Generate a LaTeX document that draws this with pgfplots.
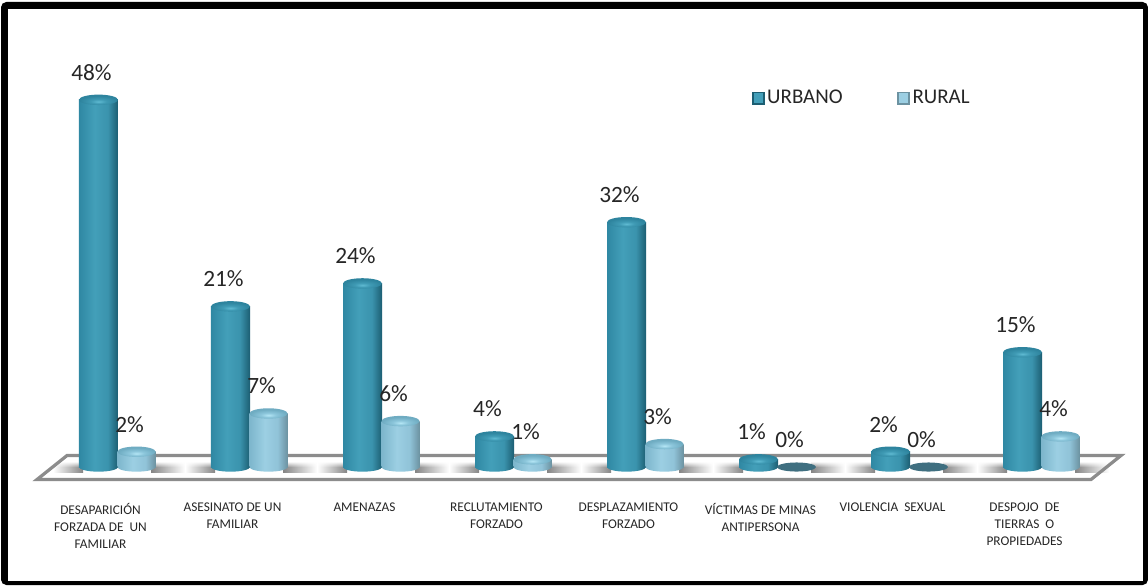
\documentclass[border=0pt]{standalone}
\usepackage{fontspec}
\setmainfont{Carlito}
\usepackage{pgfplots}
\usepackage{pgfplotstable}
\usetikzlibrary{fadings}
\pgfplotsset{compat=1.18}

\definecolor{txt}{HTML}{262626}
\definecolor{rimgray}{HTML}{8C8C8C}
\definecolor{flatc}{HTML}{3F6F80}
\definecolor{ul}{HTML}{2F88A3}
\definecolor{um}{HTML}{439FB9}
\definecolor{un}{HTML}{3A93AD}
\definecolor{ur}{HTML}{1C5E72}
\definecolor{rl}{HTML}{7DB6CC}
\definecolor{rm}{HTML}{9CCFE3}
\definecolor{rn}{HTML}{90C3D8}
\definecolor{rr}{HTML}{6C92A1}
\definecolor{cua}{HTML}{5FBAD2}
\definecolor{cub}{HTML}{3F9AB4}
\definecolor{cud}{HTML}{2E849E}
\definecolor{cra}{HTML}{B4E6F5}
\definecolor{crb}{HTML}{8CC6DB}
\definecolor{crd}{HTML}{6FACC2}

% Side lighting of the cylinder bodies
\pgfdeclarehorizontalshading{cylU}{100bp}{
  color(0bp)=(ul); color(25bp)=(ul); color(45bp)=(um);
  color(62bp)=(un); color(75bp)=(ur); color(100bp)=(ur)}
\pgfdeclarehorizontalshading{cylR}{100bp}{
  color(0bp)=(rl); color(25bp)=(rl); color(45bp)=(rm);
  color(62bp)=(rn); color(75bp)=(rr); color(100bp)=(rr)}
% Caps of the cylinders, lit just below their centre
\pgfdeclareradialshading{capU}{\pgfpoint{0bp}{-9bp}}{
  color(0bp)=(cua); color(10bp)=(cub); color(24bp)=(cud); color(50bp)=(cud)}
\pgfdeclareradialshading{capR}{\pgfpoint{0bp}{-9bp}}{
  color(0bp)=(cra); color(10bp)=(crb); color(24bp)=(crd); color(50bp)=(crd)}

\pgfdeclareplotmark{capU}{\pgfpathellipse{\pgfpointorigin}{\pgfpoint{14.6pt}{0pt}}{\pgfpoint{0pt}{3.9pt}}\pgfshadepath{capU}{0}\pgfusepath{}}
\pgfdeclareplotmark{capR}{\pgfpathellipse{\pgfpointorigin}{\pgfpoint{14.3pt}{0pt}}{\pgfpoint{0pt}{3.9pt}}\pgfshadepath{capR}{0}\pgfusepath{}}
\pgfdeclareplotmark{baseU}{\pgfpathellipse{\pgfpointorigin}{\pgfpoint{14.6pt}{0pt}}{\pgfpoint{0pt}{3.5pt}}\pgfshadepath{cylU}{0}\pgfusepath{}}
\pgfdeclareplotmark{baseR}{\pgfpathellipse{\pgfpointorigin}{\pgfpoint{14.3pt}{0pt}}{\pgfpoint{0pt}{3.5pt}}\pgfshadepath{cylR}{0}\pgfusepath{}}
\pgfdeclareplotmark{flat}{\pgfsetfillcolor{flatc}\pgfpathellipse{\pgfpointorigin}{\pgfpoint{14.6pt}{0pt}}{\pgfpoint{0pt}{3.4pt}}\pgfusepath{fill}}

% Share of responses per type of event, in percent
\pgfplotstableread{
i urbano rural
0 48 2
1 21 7
2 24 6
3 4 1
4 32 3
5 1 0
6 2 0
7 15 4
}\hechos

\begin{document}
\begin{tikzpicture}
% Frame (one unit is one pixel of the finished image)
\begin{scope}[x=0.75pt,y=-0.75pt]
  \fill[white] (0,0) rectangle (1148,585);
  \fill[black,rounded corners=4pt] (1,2) -- (1148,2) -- (1148,585) -- (1,585) -- cycle;
  \fill[white] (8,9) rectangle (1143,581);
  % Floor of the chart
  \fill[white] (37,479.5) -- (67,455.5) -- (1121,455.5) -- (1091,479.5) -- cycle;
  % Soft shadow on the floor, around every pair of cylinders
  \foreach \g in {0,...,7}{
    \pgfmathsetmacro{\xa}{79+132*\g}
    \pgfmathsetmacro{\xb}{155+132*\g}
    \shade[left color=white,right color=black!48] (\xa-26,462) rectangle (\xa+4,472.5);
    \shade[left color=black!48,right color=white] (\xb-4,462) rectangle (\xb+30,472.5);
  }
  \fill[white,path fading=south] (40,461.5) rectangle (1110,467);
  \draw[rimgray,line width=2.4pt,line join=miter] (37,479.5) -- (67,455.5) -- (1121,455.5) -- (1091,479.5) -- cycle;
\end{scope}

\begin{axis}[
  at={(0,-438.75pt)},anchor=south west,
  yshift=67.5pt,
  scale only axis,
  width=861pt,height=371.25pt,
  clip=false,
  xmin=-0.8902,xmax=7.8068,
  ymin=-3.66,ymax=61.05,
  axis line style={draw=none},
  tick style={draw=none},
  ytick=\empty,
  xtick={0,...,7},
  xticklabels={
    {DESAPARICIÓN\\FORZADA DE\ \ UN\\FAMILIAR},
    {ASESINATO DE UN\\FAMILIAR},
    {AMENAZAS},
    {RECLUTAMIENTO\\FORZADO},
    {DESPLAZAMIENTO\\FORZADO},
    {VÍCTIMAS DE MINAS\\ANTIPERSONA},
    {VIOLENCIA\ \ SEXUAL},
    {DESPOJO\ \ DE\\TIERRAS\ \ O\\PROPIEDADES}},
  x tick label style={align=center,xshift=-12.75pt,yshift=-2.6pt,
    font=\fontsize{10pt}{12.75pt}\selectfont,text=txt},
  legend style={at={(0,1)},anchor=north west,xshift=564pt,yshift=-65.5pt,
    draw=none,fill=none,legend columns=2,
    font=\fontsize{15.7pt}{18pt}\selectfont,text=txt,
    inner sep=0pt,outer sep=0pt,
    /tikz/every even column/.append style={column sep=39pt}},
  legend cell align=left,
]
% Urban series, one bar at a time so each cylinder gets its own lighting
\addplot[only marks,mark=baseU,forget plot] table[x expr=\thisrow{i}-0.144,y expr=0] {\hechos};
\pgfplotsinvokeforeach{0,...,7}{
  \addplot[ybar,bar shift=0pt,bar width=29.25pt,draw=none,forget plot,
    shade,shading=cylU,shading angle=0]
    table[x expr=\thisrow{i}-0.144,y=urbano,
      restrict expr to domain={\thisrow{i}}{#1:#1}] {\hechos};
}
\addplot[only marks,mark=capU,forget plot] table[x expr=\thisrow{i}-0.144,y=urbano] {\hechos};

% Rural series: empty values are flat discs
\addplot[only marks,mark=baseR,forget plot] table[x expr=\thisrow{i}+0.144,y expr=0,
  restrict expr to domain={\thisrow{rural}}{0.5:100}] {\hechos};
\pgfplotsinvokeforeach{0,...,7}{
  \addplot[ybar,bar shift=0pt,bar width=28.5pt,draw=none,forget plot,
    shade,shading=cylR,shading angle=0]
    table[x expr=\thisrow{i}+0.144,y=rural,
      restrict expr to domain={\thisrow{i}}{#1:#1}] {\hechos};
}
\addplot[only marks,mark=capR,forget plot] table[x expr=\thisrow{i}+0.144,y=rural,
  restrict expr to domain={\thisrow{rural}}{0.5:100}] {\hechos};
\addplot[only marks,mark=flat,forget plot] table[x expr=\thisrow{i}+0.144,y=rural,
  restrict expr to domain={\thisrow{rural}}{-1:0.5}] {\hechos};

% Value labels
\addplot[only marks,mark=none,forget plot,
  nodes near coords={\pgfmathprintnumber[assume math mode=true]{\pgfplotspointmeta}\%},
  every node near coord/.style={anchor=center,xshift=-5.25pt,yshift=20.5pt,
    font=\fontsize{17.5pt}{18pt}\selectfont,text=txt}]
  table[x expr=\thisrow{i}-0.144,y=urbano] {\hechos};
\addplot[only marks,mark=none,forget plot,
  nodes near coords={\pgfmathprintnumber[assume math mode=true]{\pgfplotspointmeta}\%},
  every node near coord/.style={anchor=center,xshift=-5.25pt,yshift=20.5pt,
    font=\fontsize{17.5pt}{18pt}\selectfont,text=txt}]
  table[x expr=\thisrow{i}+0.144,y=rural] {\hechos};

% Legend swatches
\addlegendimage{legend image code/.code={
  \fill[ur] (0pt,-4.5pt) rectangle (9pt,4.5pt);
  \fill[um] (1.5pt,-3pt) rectangle (7.5pt,3.5pt);}}
\addlegendentry{URBANO}
\addlegendimage{legend image code/.code={
  \fill[rr] (0pt,-4.5pt) rectangle (9pt,4.5pt);
  \fill[rm] (1.5pt,-3pt) rectangle (7.5pt,3.5pt);}}
\addlegendentry{RURAL}
\end{axis}
\end{tikzpicture}
\end{document}
